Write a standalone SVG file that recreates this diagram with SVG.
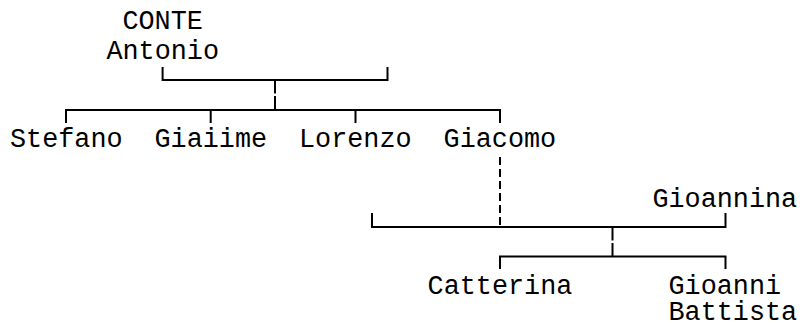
<svg xmlns="http://www.w3.org/2000/svg" width="800" height="323" viewBox="0 0 800 323">
<style>
text{font-family:"Liberation Mono","DejaVu Sans Mono",monospace;font-size:26.8px;fill:#000}
.c{fill:none;stroke:#000;stroke-width:2;stroke-linejoin:miter;stroke-linecap:butt}
.d{stroke-dasharray:8 4}
</style>
<rect width="800" height="323" fill="#fff"/>
<g id="connectors">
<path class="c" d="M162.6,67V80H387.5V67"/>
<path class="c" d="M275,80V93.5M275,96V110"/>
<path class="c" d="M66,123V110H500V123M210.7,110V123M355.5,110V123"/>
<path class="c d" d="M500,157V227"/>
<path class="c" d="M372,213V227H725.5V213"/>
<path class="c" d="M612.5,227V240.5M612.5,243V256.5"/>
<path class="c" d="M500,269V256.5H725.5V269"/>
</g>
<g id="conte-antonio"><text x="122.4" y="29">CONTE</text><text x="106.4" y="59">Antonio</text></g>
<g id="stefano"><text x="10" y="146.5">Stefano</text></g>
<g id="giaiime"><text x="154.5" y="146.5">Giaiime</text></g>
<g id="lorenzo"><text x="299" y="146.5">Lorenzo</text></g>
<g id="giacomo"><text x="443.6" y="146.5">Giacomo</text></g>
<g id="gioannina"><text x="652.4" y="206.5">Gioannina</text></g>
<g id="catterina"><text x="427.6" y="294">Catterina</text></g>
<g id="gioanni-battista"><text x="668.5" y="294">Gioanni</text><text x="668.5" y="319.5">Battista</text></g>
</svg>
